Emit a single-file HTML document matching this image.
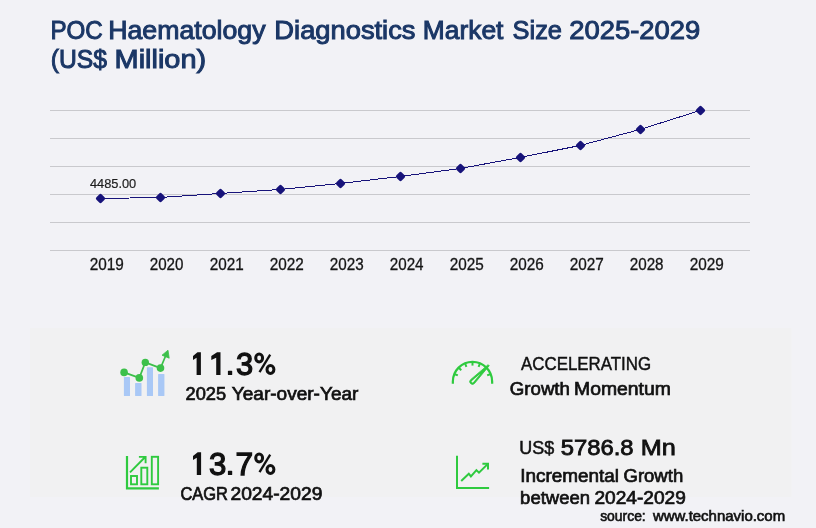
<!DOCTYPE html>
<html lang="en">
<head>
<meta charset="utf-8">
<title>POC Haematology Diagnostics Market Size 2025-2029</title>
<style>
  html, body { margin: 0; padding: 0; background: #f2f2f6; }
  body { width: 816px; height: 528px; overflow: hidden; font-family: "Liberation Sans", sans-serif; }
  svg { will-change: transform; display: block; position: absolute; left: 0; top: 0; }
  text { font-family: "Liberation Sans", sans-serif; }
  .title { font-size: 26.5px; fill: #1b3766; stroke: #1b3766; stroke-width: 1px; }
  .ax { font-size: 16px; fill: #161616; stroke: #161616; stroke-width: 0.3px; }
  .dl { font-size: 13px; fill: #1c1c1c; stroke: #1c1c1c; stroke-width: 0.2px; }
  .big { font-size: 32px; fill: #111; stroke: #111; stroke-width: 1.3px; }
  .lab { font-size: 18px; fill: #111; stroke: #111; stroke-width: 0.7px; }
  .acc { font-size: 18px; fill: #111; stroke: #111; stroke-width: 0.45px; }
  .usd { font-size: 17.5px; fill: #111; stroke: #111; stroke-width: 0.5px; }
  .mn { font-size: 22px; fill: #111; stroke: #111; stroke-width: 0.8px; }
  .src { font-size: 15px; fill: #111; stroke: #111; stroke-width: 0.65px; }
</style>
</head>
<body>
<svg width="816" height="528" viewBox="0 0 816 528">
  <rect x="0" y="0" width="816" height="528" fill="#f2f2f6"/>
  <!-- stats panel -->
  <rect x="30" y="328" width="761.5" height="169" fill="#f1f1f2"/>

  <!-- title -->
  <text class="title" x="50.46" y="39.3" textLength="52.36" lengthAdjust="spacingAndGlyphs">POC</text>
  <text class="title" x="108.23" y="39.3" textLength="157.29" lengthAdjust="spacingAndGlyphs">Haematology</text>
  <text class="title" x="274.38" y="39.3" textLength="141.12" lengthAdjust="spacingAndGlyphs">Diagnostics</text>
  <text class="title" x="422.87" y="39.3" textLength="80.54" lengthAdjust="spacingAndGlyphs">Market</text>
  <text class="title" x="512.60" y="39.3" textLength="49.40" lengthAdjust="spacingAndGlyphs">Size</text>
  <text class="title" x="569.19" y="39.3" textLength="131.05" lengthAdjust="spacingAndGlyphs">2025-2029</text>
  <text class="title" x="50.76" y="67.5" textLength="56.27" lengthAdjust="spacingAndGlyphs">(US$</text>
  <text class="title" x="114.55" y="67.5" textLength="91.67" lengthAdjust="spacingAndGlyphs">Million)</text>

  <!-- gridlines -->
  <g stroke="#c9c9cd" stroke-width="1" shape-rendering="crispEdges">
    <line x1="50" y1="110.5" x2="750" y2="110.5"/>
    <line x1="50" y1="138.5" x2="750" y2="138.5"/>
    <line x1="50" y1="166.5" x2="750" y2="166.5"/>
    <line x1="50" y1="194.5" x2="750" y2="194.5"/>
    <line x1="50" y1="222.5" x2="750" y2="222.5"/>
    <line x1="50" y1="250.5" x2="750" y2="250.5"/>
  </g>

  <!-- series line -->
  <polyline fill="none" stroke="#17137a" stroke-width="1" shape-rendering="crispEdges"
    points="100,198.5 160,197.5 220,193.5 280,189.5 340,183.5 400,176.5 460,168.5 520,157.5 580,145.5 640,129.5 700,110.5"/>

  <!-- markers -->
  <g fill="#17137a" stroke="#17137a" stroke-width="3.6" stroke-linejoin="round">
    <path d="M100.5,195.7 l2.8,2.8 -2.8,2.8 -2.8,-2.8z"/>
    <path d="M160.5,194.7 l2.8,2.8 -2.8,2.8 -2.8,-2.8z"/>
    <path d="M220.5,190.7 l2.8,2.8 -2.8,2.8 -2.8,-2.8z"/>
    <path d="M280.5,186.7 l2.8,2.8 -2.8,2.8 -2.8,-2.8z"/>
    <path d="M340.5,180.7 l2.8,2.8 -2.8,2.8 -2.8,-2.8z"/>
    <path d="M400.5,173.7 l2.8,2.8 -2.8,2.8 -2.8,-2.8z"/>
    <path d="M460.5,165.7 l2.8,2.8 -2.8,2.8 -2.8,-2.8z"/>
    <path d="M520.5,154.7 l2.8,2.8 -2.8,2.8 -2.8,-2.8z"/>
    <path d="M580.5,142.7 l2.8,2.8 -2.8,2.8 -2.8,-2.8z"/>
    <path d="M640.5,126.7 l2.8,2.8 -2.8,2.8 -2.8,-2.8z"/>
    <path d="M700.5,107.7 l2.8,2.8 -2.8,2.8 -2.8,-2.8z"/>
  </g>

  <!-- data label and axis labels -->
  <text class="dl" x="89.89" y="187.8" textLength="46.35" lengthAdjust="spacingAndGlyphs">4485.00</text>
  <text class="ax" x="89.74" y="270.3" textLength="34.05" lengthAdjust="spacingAndGlyphs">2019</text>
  <text class="ax" x="149.76" y="270.3" textLength="33.70" lengthAdjust="spacingAndGlyphs">2020</text>
  <text class="ax" x="209.76" y="270.3" textLength="33.95" lengthAdjust="spacingAndGlyphs">2021</text>
  <text class="ax" x="269.74" y="270.3" textLength="34.08" lengthAdjust="spacingAndGlyphs">2022</text>
  <text class="ax" x="329.76" y="270.3" textLength="33.84" lengthAdjust="spacingAndGlyphs">2023</text>
  <text class="ax" x="389.77" y="270.3" textLength="33.72" lengthAdjust="spacingAndGlyphs">2024</text>
  <text class="ax" x="449.75" y="270.3" textLength="33.99" lengthAdjust="spacingAndGlyphs">2025</text>
  <text class="ax" x="509.75" y="270.3" textLength="33.97" lengthAdjust="spacingAndGlyphs">2026</text>
  <text class="ax" x="569.74" y="270.3" textLength="34.08" lengthAdjust="spacingAndGlyphs">2027</text>
  <text class="ax" x="629.76" y="270.3" textLength="33.81" lengthAdjust="spacingAndGlyphs">2028</text>
  <text class="ax" x="689.74" y="270.3" textLength="34.05" lengthAdjust="spacingAndGlyphs">2029</text>

  <!-- icon 1: bars with trend line -->
  <g>
    <g fill="#a9c8f6">
      <rect x="123.9" y="377" width="6.1" height="19" rx="0.6"/>
      <rect x="135.1" y="383" width="6.4" height="13" rx="0.6"/>
      <rect x="146.9" y="367.3" width="6.1" height="28.7" rx="0.6"/>
      <rect x="158.1" y="374" width="6.3" height="22" rx="0.6"/>
    </g>
    <polyline fill="none" stroke="#3cc04a" stroke-width="1.7" stroke-linecap="round" stroke-linejoin="round"
      points="124.1,372.4 139.3,377.9 145.3,362.4 160.5,368.1 166.2,354.5"/>
    <g fill="#3cc04a">
      <circle cx="124.1" cy="372.4" r="3.8"/>
      <circle cx="139.3" cy="377.9" r="3.8"/>
      <circle cx="145.3" cy="362.4" r="3.7"/>
      <circle cx="160.5" cy="368.1" r="3.8"/>
      <path d="M168,350.2 L162,355.2 L169.2,358.2 Z" stroke="#3cc04a" stroke-width="0.8" stroke-linejoin="round"/>
    </g>
  </g>

  <!-- icon 2: speedometer -->
  <g fill="none" stroke="#2fca3f" stroke-width="2.2" stroke-linecap="butt">
    <path d="M452.85,383.7 V381.5 A19.65,19.65 0 0 1 492.15,381.5 V383.7"/>
    <g stroke-width="2">
      <line x1="454.95" y1="374.23" x2="457.81" y2="375.42"/>
      <line x1="459.06" y1="368.06" x2="461.26" y2="370.26"/>
      <line x1="465.23" y1="363.95" x2="466.42" y2="366.81"/>
      <line x1="472.50" y1="362.50" x2="472.50" y2="365.60"/>
      <line x1="479.77" y1="363.95" x2="478.58" y2="366.81"/>
      <line x1="490.05" y1="374.23" x2="487.19" y2="375.42"/>
    </g>
    <path d="M489.23,365.73 L474.46,383.53 A2.75,2.75 0 0 1 470.54,379.67 L488.17,364.67 Z" fill="#2fca3f" stroke-width="0.8" stroke-linejoin="round"/>
    <path d="M480.58,373.42 L473.18,382.27 A0.95,0.95 0 0 1 471.82,380.93 Z" fill="#f2f6f2" stroke="none"/>
  </g>

  <!-- icon 3: CAGR bars -->
  <g fill="none" stroke="#2fca3f" stroke-width="1.9" stroke-linecap="butt" stroke-linejoin="miter">
    <path d="M127,456 V488.4 H158.9" stroke-width="2.2"/>
    <rect x="131" y="476" width="6" height="8.3"/>
    <rect x="141.3" y="467.7" width="6" height="16.6"/>
    <rect x="151.8" y="456.8" width="6.3" height="27.5"/>
    <path d="M130,472.4 L145.2,457 M138.9,456.9 H145.6 V463.2"/>
  </g>

  <!-- icon 4: line chart -->
  <g fill="none" stroke="#2fca3f" stroke-width="2" stroke-linecap="butt" stroke-linejoin="miter">
    <path d="M457,455.8 V487.9 H489.1"/>
    <path d="M461.2,481 L468.8,473.7 L470.9,476.4 L476.4,470.1 L479,472.7 L487.6,464.1"/>
    <path d="M482.4,463.7 H488 V469.5"/>
  </g>

  <!-- stat texts -->
  <path fill="#111" d="M200.90,352.35 V375.10 H196.60 V357.65 L193.00,360.05 V355.95 L197.50,352.35 Z"/>
  <path fill="#111" d="M220.50,352.35 V375.10 H216.20 V357.65 L211.30,360.05 V355.95 L217.10,352.35 Z"/>
  <rect fill="#111" x="227.90" y="370.80" width="4.30" height="4.30" rx="0.6"/>
  <path fill="#111" d="M201.10,452.35 V475.10 H196.80 V457.65 L193.00,460.05 V455.95 L197.70,452.35 Z"/>
  <rect fill="#111" x="227.90" y="470.80" width="4.30" height="4.30" rx="0.6"/>
  <g fill="none" stroke="#111"><ellipse cx="259.15" cy="358.00" rx="3.45" ry="3.95" stroke-width="3"/><ellipse cx="270.45" cy="369.55" rx="3.45" ry="3.95" stroke-width="3"/><line x1="270.2" y1="354.70" x2="259.5" y2="372.10" stroke-width="2.3"/></g>
  <g fill="none" stroke="#111"><ellipse cx="259.15" cy="458.00" rx="3.45" ry="3.95" stroke-width="3"/><ellipse cx="270.45" cy="469.55" rx="3.45" ry="3.95" stroke-width="3"/><line x1="270.2" y1="454.70" x2="259.5" y2="472.10" stroke-width="2.3"/></g>
  <text class="big" x="235.94" y="375.1" textLength="17.18" lengthAdjust="spacingAndGlyphs">3</text>
  <text class="lab" x="185.58" y="400.3" textLength="40.57" lengthAdjust="spacingAndGlyphs">2025</text>
  <text class="lab" x="231.84" y="400.3" textLength="126.58" lengthAdjust="spacingAndGlyphs">Year-over-Year</text>
  <text class="big" x="208.90" y="475.1" textLength="17.36" lengthAdjust="spacingAndGlyphs">3</text>
  <text class="big" x="235.41" y="475.1" textLength="17.63" lengthAdjust="spacingAndGlyphs">7</text>
  <text class="lab" x="180.44" y="500.3" textLength="47.56" lengthAdjust="spacingAndGlyphs">CAGR</text>
  <text class="lab" x="230.46" y="500.3" textLength="91.88" lengthAdjust="spacingAndGlyphs">2024-2029</text>
  <text class="acc" x="521.01" y="370.0" textLength="130.09" lengthAdjust="spacingAndGlyphs">ACCELERATING</text>
  <text class="lab" x="509.82" y="394.8" textLength="60.11" lengthAdjust="spacingAndGlyphs">Growth</text>
  <text class="lab" x="574.03" y="394.8" textLength="96.89" lengthAdjust="spacingAndGlyphs">Momentum</text>
  <text class="usd" x="519.32" y="454.4" textLength="34.92" lengthAdjust="spacingAndGlyphs">US$</text>
  <text class="mn" x="560.66" y="454.5" textLength="72.88" lengthAdjust="spacingAndGlyphs">5786.8</text>
  <text class="mn" x="640.79" y="454.5" textLength="35.08" lengthAdjust="spacingAndGlyphs">Mn</text>
  <text class="lab" x="520.24" y="482.0" textLength="98.78" lengthAdjust="spacingAndGlyphs">Incremental</text>
  <text class="lab" x="623.47" y="482.0" textLength="59.74" lengthAdjust="spacingAndGlyphs">Growth</text>
  <text class="lab" x="520.14" y="503.8" textLength="69.87" lengthAdjust="spacingAndGlyphs">between</text>
  <text class="lab" x="594.45" y="503.8" textLength="91.42" lengthAdjust="spacingAndGlyphs">2024-2029</text>
  <text class="src" x="600.14" y="521.4" textLength="45.62" lengthAdjust="spacingAndGlyphs">source:</text>
  <text class="src" x="652.89" y="521.4" textLength="132.27" lengthAdjust="spacingAndGlyphs">www.technavio.com</text>

</svg>
</body>
</html>
